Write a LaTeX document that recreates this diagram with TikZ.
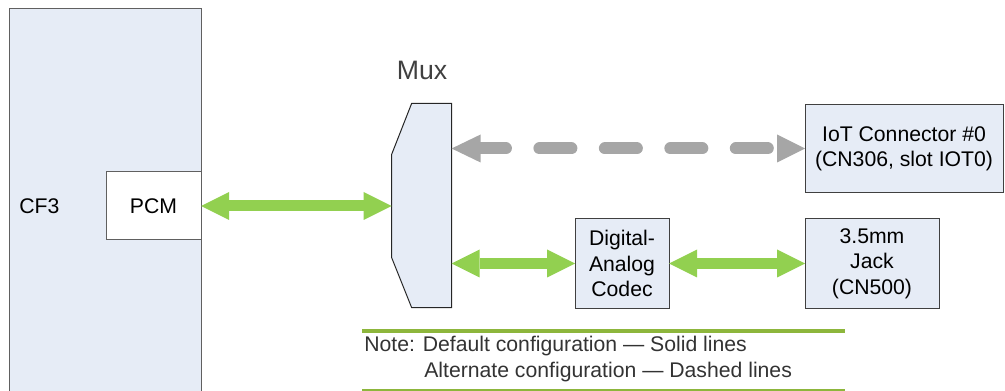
\documentclass[tikz,border=0pt]{standalone}
\usepackage{fontspec}
\setmainfont{Liberation Sans}
\usetikzlibrary{arrows.meta}
\definecolor{boxfill}{HTML}{E6ECF6}
\definecolor{agreen}{HTML}{92D050}
\definecolor{lgreen}{HTML}{8DB63C}
\definecolor{agray}{HTML}{A6A6A6}
\definecolor{edgec}{HTML}{404040}
\definecolor{edgel}{HTML}{606060}
\definecolor{txt}{HTML}{333333}
\begin{document}
\begin{tikzpicture}[x=0.75pt,y=-0.75pt,
  font=\fontsize{15.9pt}{19pt}\selectfont,
  blk/.style={draw=edgec, fill=boxfill, line width=0.75pt, inner sep=0pt, outer sep=0pt, align=center},
  garrow/.style={draw=agreen, line width=8.25pt,
    {Triangle[length=21pt,width=21pt,line width=0pt]}-{Triangle[length=21pt,width=21pt,line width=0pt]}},
  darrow/.style={draw=agray, line width=9pt, line cap=round, dash pattern=on 24pt off 25.1pt, dash phase=5pt,
    {Triangle[length=21.75pt,width=21pt,line width=0pt]}-{Triangle[length=21pt,width=21pt,line width=0pt]}},
  notetxt/.style={text=txt, anchor=west, inner sep=0pt},
  rule/.style={draw=lgreen}
]
\useasboundingbox (0,0) rectangle (1005,391);
\clip (0,0) rectangle (1005,391);

% CF3 block
\node[blk, draw=edgel, minimum width=144pt, minimum height=308.25pt] (cf3) at (105,214.5) {};
\node[anchor=west, inner sep=0pt] (cf3label) at (19,206) {CF3};
\node[blk, draw=edgel, fill=white, minimum width=71.25pt, minimum height=51pt] (pcm) at (153.5,206) {PCM};

% Mux
\node[inner sep=0pt, outer sep=0pt, minimum width=45pt, minimum height=153pt] (mux) at (421.6,205.5) {};
\draw[draw=black!85, fill=boxfill, line width=0.75pt, line join=miter]
  ([xshift=15pt]mux.north west) -- (mux.north east) -- (mux.south east)
  -- ([xshift=15pt]mux.south west) -- ([yshift=37.5pt]mux.south west)
  -- ([yshift=-38.25pt]mux.north west) -- cycle;
\node[text=edgec, font=\fontsize{20pt}{24pt}\selectfont] (muxlabel) at (422,70) {Mux};

% Right blocks
\node[blk, minimum width=148.5pt, minimum height=66.4pt] (iot) at (904,148.5) {IoT Connector \#0\\(CN306, slot IOT0)};
\node[blk, minimum width=70.5pt, minimum height=66.75pt] (codec) at (622,263.5) {Digital-\\Analog\\Codec};
\node[blk, minimum width=100.5pt, minimum height=66.75pt] (jack) at (872,263.5) {3.5mm\\Jack\\(CN500)};

% Connectors
\draw[garrow] (pcm.east) -- (pcm.east -| mux.west);
\draw[darrow] (mux.east |- iot.west) -- (iot.west);
\draw[garrow] (mux.east |- codec.west) -- (codec.west);
\draw[garrow] (codec.east) -- (jack.west);

% Note
\draw[rule, line width=3.4pt] (362,331) -- (845,331);
\node[notetxt] (note1) at (364,346.5) {Note: Default configuration — Solid lines};
\node[notetxt] (note2) at (424,372.5) {Alternate configuration — Dashed lines};
\draw[rule, line width=1.5pt] (362,390) -- (845,390);
\end{tikzpicture}
\end{document}
